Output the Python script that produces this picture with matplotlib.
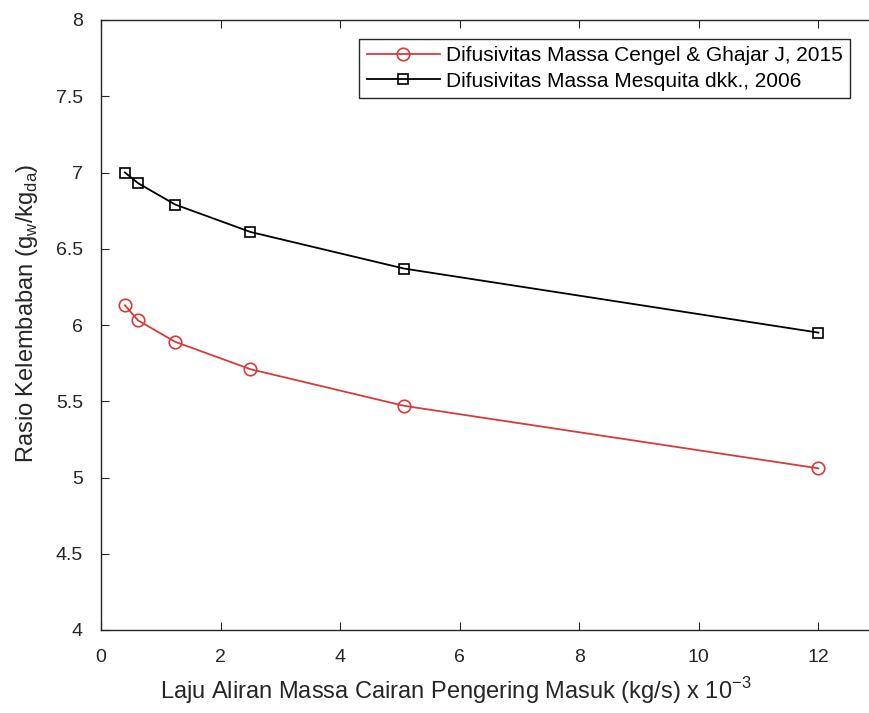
import matplotlib
matplotlib.use('Agg')
import matplotlib.pyplot as plt

# data
laju = [0.4, 0.62, 1.24, 2.5, 5.07, 12.0]
rasio_cengel = [6.13, 6.03, 5.89, 5.71, 5.47, 5.06]
rasio_mesquita = [7.0, 6.93, 6.79, 6.61, 6.37, 5.95]
label_cengel = 'Difusivitas Massa Cengel & Ghajar J, 2015'
label_mesquita = 'Difusivitas Massa Mesquita dkk., 2006'

plt.rcParams['font.family'] = ['Liberation Sans', 'DejaVu Sans']
plt.rcParams['mathtext.fontset'] = 'custom'
plt.rcParams['mathtext.rm'] = 'Liberation Sans'

fig = plt.figure(figsize=(8.7, 7.13), dpi=100)
# axes run on past the right edge of the figure (cropped, like the original)
ax = fig.add_axes([101/870, 83/713, 837/870, 610/713])

ax.plot(laju, rasio_cengel, '-o', color='#d83a3a', lw=1.3, ms=9,
        mfc='none', mew=1.2, label=label_cengel)
ax.plot(laju, rasio_mesquita, '-s', color='black', lw=1.3, ms=7,
        mfc='none', mew=1.2, label=label_mesquita)

ax.set_xlim(0, 14)
ax.set_ylim(4, 8)
ax.set_xticks([0, 2, 4, 6, 8, 10, 12])
ax.set_yticks([4, 4.5, 5, 5.5, 6, 6.5, 7, 7.5, 8])
ax.set_yticklabels(['4', '4.5', '5', '5.5', '6', '6.5', '7', '7.5', '8'])
ax.tick_params(direction='in', top=True, right=True, length=6,
               labelsize=14, colors='#262626')
ax.tick_params(axis='x', pad=14)
ax.tick_params(axis='y', pad=13)
for s in ax.spines.values():
    s.set_color('#262626')
    s.set_linewidth(1.0)

ax.set_xlabel(r'Laju Aliran Massa Cairan Pengering Masuk (kg/s) x 10$^{\mathregular{-3}}$',
              fontsize=17, color='#262626')
ax.set_ylabel(r'Rasio Kelembaban (g$_{\mathregular{w}}$/kg$_{\mathregular{da}}$)',
              fontsize=17, color='#262626')
ax.xaxis.set_label_coords(0.424, -0.074)
ax.yaxis.set_label_coords(-0.073, 0.52)

leg = ax.legend(loc='upper right', bbox_to_anchor=(850/870, 1 - 39/713),
                bbox_transform=fig.transFigure, fontsize=15,
                fancybox=False, edgecolor='#262626', framealpha=1,
                handlelength=3.5, handletextpad=0.3, borderpad=0.35,
                labelspacing=0.3, borderaxespad=0)
leg.get_frame().set_linewidth(1.0)

fig.savefig('out.png', dpi=100)
